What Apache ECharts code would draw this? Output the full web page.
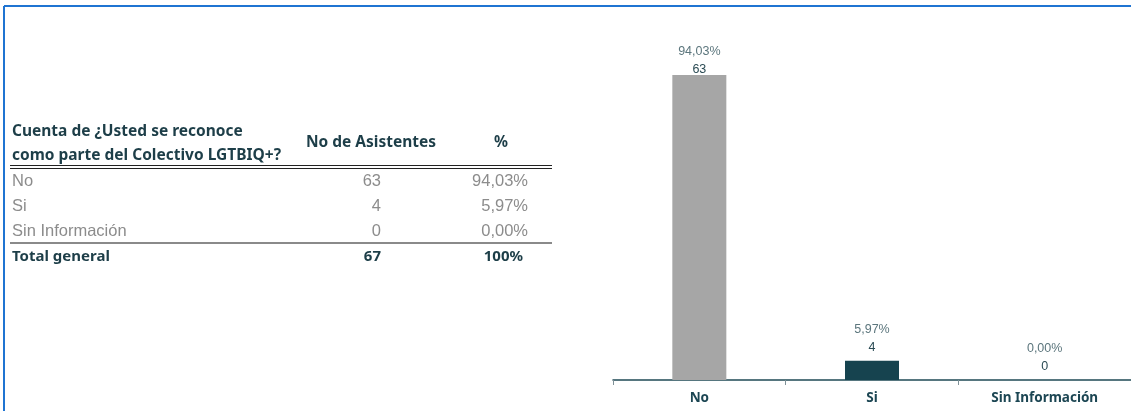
<!DOCTYPE html>
<html>
<head>
<meta charset="utf-8">
<script src="https://cdn.jsdelivr.net/npm/echarts@6/dist/echarts.min.js"></script>
<style>
  html, body { margin: 0; padding: 0; background: #ffffff; }
  #chart { width: 1131px; height: 411px; }
</style>
</head>
<body>
<div id="chart"></div>
<script>
// Respuestas: ¿Usted se reconoce como parte del Colectivo LGTBIQ+?
const categories = ['No', 'Si', 'Sin Información'];
const asistentes = [63, 4, 0];
const porcentajes = [94.03, 5.97, 0.00];
const totalAsistentes = 67;
const totalPorcentaje = '100%';
const barColors = ['#a6a6a6', '#16434f', '#a6a6a6'];

const fmtPct = v => v.toFixed(2).replace('.', ',') + '%';

const dark = '#1d3e48';
const rowGray = '#8c8c8c';

// Tabla dinámica a la izquierda
const tableGraphics = [];
const text = (x, y, str, style) => ({
  type: 'text', x: x, y: y,
  style: Object.assign({ text: str, textVerticalAlign: 'middle' }, style)
});
const headStyle = { font: 'bold 15.5px "Noto Sans", Lato, sans-serif', fill: dark };
tableGraphics.push(text(12, 132, 'Cuenta de ¿Usted se reconoce', headStyle));
tableGraphics.push(text(12, 156, 'como parte del Colectivo LGTBIQ+?', headStyle));
tableGraphics.push(text(371, 143, 'No de Asistentes', Object.assign({ textAlign: 'center' }, headStyle)));
tableGraphics.push(text(501, 143, '%', Object.assign({ textAlign: 'center' }, headStyle)));

// doble línea bajo el encabezado
tableGraphics.push({ type: 'line', shape: { x1: 10, y1: 165.5, x2: 552, y2: 165.5 }, style: { stroke: '#222', lineWidth: 1 } });
tableGraphics.push({ type: 'line', shape: { x1: 10, y1: 168.5, x2: 552, y2: 168.5 }, style: { stroke: '#222', lineWidth: 1 } });

const rowStyle = { font: '16.5px "Liberation Sans", Arial, sans-serif', fill: rowGray };
categories.forEach((c, i) => {
  const y = 181 + i * 25;
  tableGraphics.push(text(12, y, c, rowStyle));
  tableGraphics.push(text(381, y, String(asistentes[i]), Object.assign({ textAlign: 'right' }, rowStyle)));
  tableGraphics.push(text(528, y, fmtPct(porcentajes[i]), Object.assign({ textAlign: 'right' }, rowStyle)));
});

// línea sobre el total
tableGraphics.push({ type: 'line', shape: { x1: 10, y1: 243, x2: 552, y2: 243 }, style: { stroke: '#8a8a8a', lineWidth: 2 } });

const totStyle = { font: 'bold 15px "Noto Sans", Lato, sans-serif', fill: dark };
tableGraphics.push(text(12, 257, 'Total general', totStyle));
tableGraphics.push(text(381, 257, String(totalAsistentes), Object.assign({ textAlign: 'right' }, totStyle)));
tableGraphics.push(text(523, 257, totalPorcentaje, Object.assign({ textAlign: 'right' }, totStyle)));

// marco azul
tableGraphics.push({ type: 'line', shape: { x1: 4, y1: 6, x2: 1131, y2: 6 }, style: { stroke: '#1f74d2', lineWidth: 2 } });
tableGraphics.push({ type: 'line', shape: { x1: 4, y1: 6, x2: 4, y2: 411 }, style: { stroke: '#1f74d2', lineWidth: 2 } });

const chart = echarts.init(document.getElementById('chart'), null, { renderer: 'canvas' });

chart.setOption({
  animation: false,
  backgroundColor: '#ffffff',
  grid: { left: 613, top: 41, width: 519, bottom: 31, containLabel: false },
  xAxis: {
    type: 'category',
    data: categories,
    axisLine: { lineStyle: { color: '#1f4a56', width: 1.5 } },
    axisTick: { show: true, length: 5, lineStyle: { color: '#7f9197' } },
    axisLabel: {
      color: '#1c4653',
      fontWeight: 'bold',
      fontSize: 13.5,
      fontFamily: '"Noto Sans", Lato, sans-serif',
      margin: 11
    }
  },
  yAxis: {
    type: 'value',
    min: 0,
    max: 70,
    show: false,
    splitLine: { show: false }
  },
  series: [{
    type: 'bar',
    barWidth: 54,
    data: asistentes.map((v, i) => ({
      value: v,
      itemStyle: { color: barColors[i] },
      // la etiqueta de la barra más alta queda más pegada al borde superior
      label: i === 0 ? { distance: -4 } : undefined
    })),
    label: {
      show: true,
      position: 'top',
      distance: 4,
      formatter: p => '{p|' + fmtPct(porcentajes[p.dataIndex]) + '}\n{n|' + p.value + '}',
      rich: {
        p: { color: '#5c767d', fontSize: 12.5, fontFamily: '"Liberation Sans", Arial, sans-serif', lineHeight: 18 },
        n: { color: '#2b4b54', fontSize: 12.5, fontFamily: '"Liberation Sans", Arial, sans-serif', lineHeight: 18 }
      }
    }
  }],
  graphic: tableGraphics
});
</script>
</body>
</html>
